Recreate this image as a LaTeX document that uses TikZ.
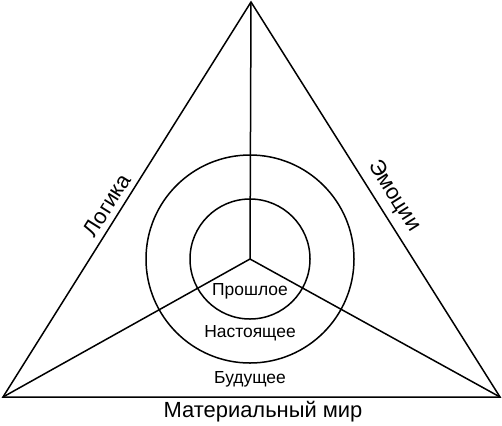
\documentclass[tikz,border=0pt]{standalone}
\usepackage{fontspec}
\setmainfont{Liberation Sans}
\begin{document}
\begin{tikzpicture}[x=1bp,y=-1bp,
  edge/.style={line width=1.5bp, line join=miter},
  small/.style={font=\fontsize{17.5}{20}\selectfont, inner sep=0pt},
  big/.style={font=\fontsize{22}{26}\selectfont, inner sep=0pt}]
\useasboundingbox (0,0) rectangle (502,425);
\coordinate (A) at (251,2);
\coordinate (L) at (3,397);
\coordinate (R) at (500,397);
\coordinate (C) at (250,259);
\draw[edge] (A) -- (L) -- (R) -- cycle;
\draw[edge] (C) -- (A);
\draw[edge] (C) -- (L);
\draw[edge] (C) -- (R);
\draw[edge] (C) circle[radius=60];
\draw[edge] (C) circle[radius=104];
\node[small] (past) at (250,291) {Прошлое};
\node[small] (present) at (250,333) {Настоящее};
\node[small] (future) at (250,379) {Будущее};
\node[big] (mat) at (263,412) {Материальный мир};
\node[big, rotate=57.9] (logic) at (107,205) {Логика};
\node[big, rotate=-57.9] (emo) at (394,196) {Эмоции};
\end{tikzpicture}
\end{document}
